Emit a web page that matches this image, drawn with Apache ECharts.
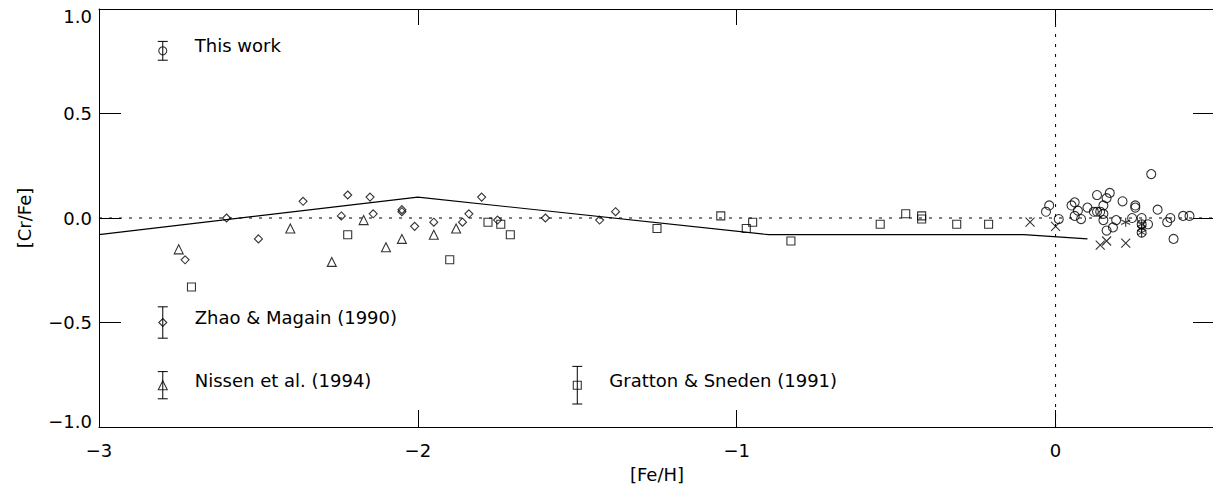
<!DOCTYPE html>
<html>
<head>
<meta charset="utf-8">
<script src="https://cdn.jsdelivr.net/npm/echarts@6/dist/echarts.min.js"></script>
<style>
html,body{margin:0;padding:0;background:#fff;}
#chart{width:1213px;height:487px;}
</style>
</head>
<body>
<div id="chart"></div>
<script>
// ---- data ----
const thisWork = [
  [-0.02,0.06],[-0.03,0.03],[0.01,-0.005],[0.05,0.06],[0.06,0.075],[0.07,0.035],
  [0.06,0.01],[0.08,-0.005],[0.10,0.05],[0.12,0.03],[0.13,0.03],[0.14,0.03],
  [0.15,0.02],[0.13,0.11],[0.15,0.06],[0.16,0.095],[0.17,0.12],[0.15,-0.01],
  [0.16,-0.06],[0.18,-0.045],[0.19,-0.01],[0.21,0.08],[0.25,0.06],[0.25,0.05],
  [0.24,0.0],[0.27,0.0],[0.27,-0.03],[0.27,-0.07],[0.29,-0.03],[0.30,0.21],
  [0.32,0.04],[0.35,-0.02],[0.36,0.0],[0.37,-0.10],[0.40,0.01],[0.42,0.01]
];
const zhaoMagain = [
  [-2.73,-0.20],[-2.60,0.0],[-2.50,-0.10],[-2.36,0.08],[-2.24,0.01],[-2.22,0.11],
  [-2.15,0.10],[-2.14,0.02],[-2.05,0.04],[-2.05,0.03],[-2.01,-0.04],[-1.95,-0.02],
  [-1.86,-0.02],[-1.84,0.02],[-1.80,0.10],[-1.75,-0.01],[-1.60,0.0],[-1.43,-0.01],
  [-1.38,0.03]
];
const nissen = [
  [-2.75,-0.15],[-2.40,-0.05],[-2.27,-0.21],[-2.17,-0.01],[-2.10,-0.14],
  [-2.05,-0.10],[-1.95,-0.08],[-1.88,-0.05]
];
const gratton = [
  [-2.71,-0.33],[-2.22,-0.08],[-1.90,-0.20],[-1.78,-0.02],[-1.74,-0.03],[-1.71,-0.08],
  [-1.25,-0.05],[-1.05,0.01],[-0.97,-0.05],[-0.95,-0.02],[-0.83,-0.11],[-0.55,-0.03],
  [-0.47,0.02],[-0.42,0.01],[-0.42,-0.005],[-0.31,-0.03],[-0.21,-0.03]
];
const crosses = [[-0.08,-0.02],[0.0,-0.04],[0.14,-0.13],[0.16,-0.11],[0.22,-0.12]];
const asterisks = [[0.22,-0.02],[0.27,-0.03],[0.27,-0.05],[0.27,-0.07]];
const modelLine = [[-3,-0.08],[-2,0.10],[-0.9,-0.08],[-0.1,-0.08],[0.1,-0.10]];
const zeroH = [[-3,0],[0.5,0]];
const zeroV = [[0,-1],[0,1]];

const keyNames = ['This work','Zhao & Magain (1990)','Nissen et al. (1994)','Gratton & Sneden (1991)'];
const keyX = [-2.80,-2.80,-2.80,-1.50];
const keyY = [0.80,-0.50,-0.80,-0.80];
const keyErr = [0.045,0.075,0.065,0.09];

const xTicks = [-3,-2,-1,0];
const yTicks = [-1,-0.5,0,0.5,1];

// ---- chart ----
const FONT = 'DejaVu Sans';
const FS = 18;
const chart = echarts.init(document.getElementById('chart'), null, {renderer:'svg'});
const open = 'rgba(0,0,0,0)';
function sym(name, data, symbol, size){
  return {type:'scatter', name, data, symbol, symbolSize:size, z:5,
    itemStyle:{color:open, borderColor:'#000', borderWidth:1.1}, silent:true};
}
const keyData = keyNames.map((n,i)=>[keyX[i],keyY[i],keyErr[i]]);
const keySymbols = ['circle','diamond','triangle','rect'];
const keySizes = [8,8,9,8];

const series = [
  {type:'line', data:zeroH, symbol:'none', lineStyle:{color:'#000', width:1, type:[3,7]}, silent:true},
  {type:'line', data:zeroV, symbol:'none', lineStyle:{color:'#000', width:1, type:[3,7]}, silent:true},
  {type:'line', data:modelLine, symbol:'none', lineStyle:{color:'#000', width:1.2}, silent:true},
  sym('This work', thisWork, 'circle', 9),
  sym('Zhao', zhaoMagain, 'diamond', 8),
  sym('Nissen', nissen, 'triangle', 9),
  sym('Gratton', gratton, 'rect', 8),
  sym('cross', crosses, 'path://M0,0L10,10M0,10L10,0', 9),
  sym('ast', asterisks, 'path://M5,0L5,10M0,2.5L10,7.5M0,7.5L10,2.5', 9),
  {type:'custom', data:keyData, silent:true, z:6,
    renderItem:function(params, api){
      const x=api.value(0), y=api.value(1), e=api.value(2);
      const top=api.coord([x,y+e]), bot=api.coord([x,y-e]), c=api.coord([x,y]);
      const st={stroke:'#000', lineWidth:1};
      return {type:'group', children:[
        {type:'line', shape:{x1:top[0],y1:top[1],x2:bot[0],y2:bot[1]}, style:st},
        {type:'line', shape:{x1:top[0]-5,y1:top[1],x2:top[0]+5,y2:top[1]}, style:st},
        {type:'line', shape:{x1:bot[0]-5,y1:bot[1],x2:bot[0]+5,y2:bot[1]}, style:st},
        {type:'text', x:c[0]+32, y:c[1]-5, style:{text:keyNames[params.dataIndex], fill:'#000',
          font:FS+'px "'+FONT+'"', verticalAlign:'middle', align:'left'}}
      ]};
    }
  }
];
keySymbols.forEach((s,i)=>{
  series.push(sym('key'+i, [[keyX[i],keyY[i]]], s, keySizes[i]));
});

const minus = v => String(v).replace('-', '\u2212');
const axLine = {show:true, onZero:false, lineStyle:{color:'#000', width:1}};
chart.setOption({
  animation:false,
  backgroundColor:'#fff',
  textStyle:{fontFamily:FONT},
  grid:{left:99, right:-2, top:9, bottom:60, containLabel:false, outerBoundsMode:'none'},
  xAxis:[
    {type:'value', min:-3, max:0.5, interval:1, position:'bottom',
     name:'[Fe/H]', nameLocation:'middle', nameGap:38,
     nameTextStyle:{fontSize:FS, color:'#000', fontFamily:FONT},
     axisLine:axLine,
     axisTick:{show:true, inside:true, length:17, customValues:xTicks, lineStyle:{color:'#000'}},
     axisLabel:{customValues:xTicks, fontSize:FS, color:'#000', margin:14, fontFamily:FONT,
       formatter:v=>minus(v)},
     splitLine:{show:false}},
    {type:'value', min:-3, max:0.5, interval:1, position:'top',
     axisLine:axLine,
     axisTick:{show:true, inside:true, length:16, customValues:xTicks, lineStyle:{color:'#000'}},
     axisLabel:{show:false}, splitLine:{show:false}}
  ],
  yAxis:[
    {type:'value', min:-1, max:1, interval:0.5, position:'left',
     name:'[Cr/Fe]', nameLocation:'middle', nameGap:66,
     nameTextStyle:{fontSize:FS, color:'#000', fontFamily:FONT},
     axisLine:axLine,
     axisTick:{show:true, inside:true, length:22, customValues:yTicks, lineStyle:{color:'#000'}},
     axisLabel:{customValues:yTicks, fontSize:FS, color:'#000', margin:7, fontFamily:FONT,
       formatter:function(v){
         const s = minus(v.toFixed(1));
         if (v === 1) return '{t|' + s + '}';
         if (v === -1) return '{b|' + s + '}';
         return s;
       },
       rich:{t:{padding:[14,0,0,0], fontSize:FS, fontFamily:FONT, color:'#000'},
             b:{padding:[0,0,11,0], fontSize:FS, fontFamily:FONT, color:'#000'}}},
     splitLine:{show:false}},
    {type:'value', min:-1, max:1, interval:0.5, position:'right',
     axisLine:axLine,
     axisTick:{show:true, inside:true, length:22, customValues:yTicks, lineStyle:{color:'#000'}},
     axisLabel:{show:false}, splitLine:{show:false}}
  ],
  series:series
});
</script>
</body>
</html>
